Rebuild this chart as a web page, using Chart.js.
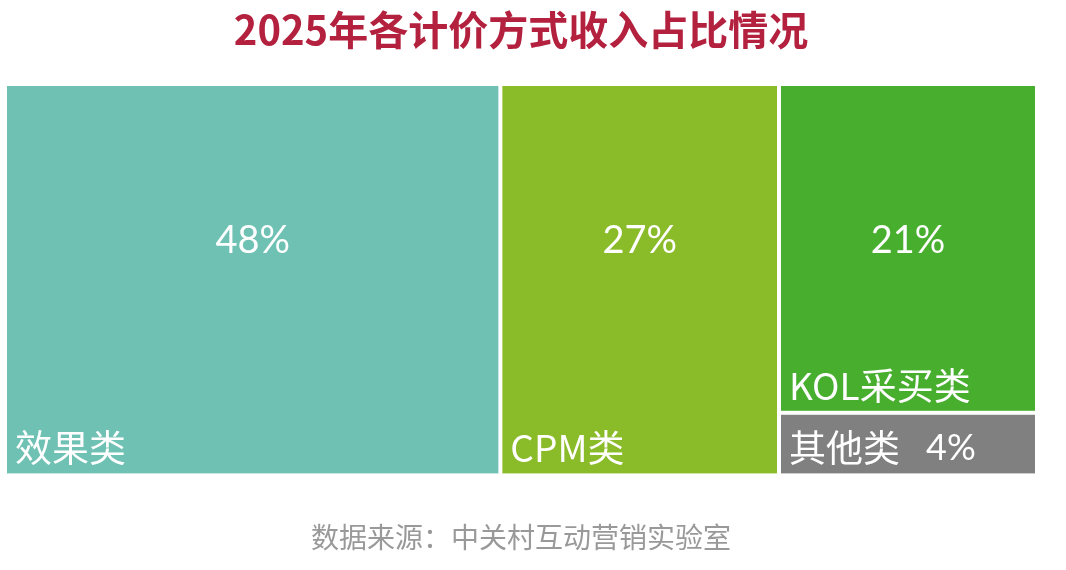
<!DOCTYPE html>
<html>
<head>
<meta charset="utf-8">
<script src="https://cdn.jsdelivr.net/npm/chart.js@4.4.1/dist/chart.umd.min.js"></script>
<style>
body { margin: 0; background: #fff; }
#wrap { width: 1066px; height: 570px; }
</style>
</head>
<body>
<div id="wrap"><canvas id="treemap"></canvas></div>
<script>
var categories = ['效果类', 'CPM类', 'KOL采买类', '其他类'];
var shares = [48, 27, 21, 4];
var colors = ['#6fc1b3', '#8abb28', '#47ae2e', '#808080'];
// which categories share a column of the treemap
var columns = [[0], [1], [2, 3]];

function layoutCells() {
    var total = shares.reduce(function (a, b) { return a + b; }, 0);
    var x = 0, cells = [];
    columns.forEach(function (col) {
        var colSum = col.reduce(function (s, i) { return s + shares[i]; }, 0);
        var w = colSum / total * 100, y = 0;
        col.forEach(function (i) {
            var h = shares[i] / colSum * 100;
            cells.push({ x: x + w / 2, y: y + h / 2, x0: x, x1: x + w, y0: y, y1: y + h, idx: i });
            y += h;
        });
        x += w;
    });
    return cells;
}

var cellPlugin = {
    id: 'cells',
    afterDatasetsDraw: function (chart) {
        var ctx = chart.ctx, xs = chart.scales.x, ys = chart.scales.y;
        ctx.save();
        chart.data.datasets[0].data.forEach(function (c) {
            var l = xs.getPixelForValue(c.x0) + 2, r = xs.getPixelForValue(c.x1) - 2;
            var t = ys.getPixelForValue(c.y0) + 2, b = ys.getPixelForValue(c.y1) - 2;
            ctx.fillStyle = colors[c.idx];
            ctx.fillRect(l, t, r - l, b - t);

            var name = categories[c.idx], pct = shares[c.idx] + '%';
            ctx.fillStyle = '#ffffff';
            ctx.textBaseline = 'middle';
            ctx.font = '37px "Noto Sans CJK SC"';
            ctx.textAlign = 'left';
            ctx.fillText(name, l + 8, b - 25);
            if (c.y1 - c.y0 < 25) {
                var nw = ctx.measureText(name).width;
                ctx.font = '36px Lato';
                ctx.fillText(pct, l + 8 + nw + 26, b - 25);
            } else {
                ctx.font = '38px Lato';
                ctx.textAlign = 'center';
                ctx.fillText(pct, (l + r) / 2, ys.getPixelForValue(Math.min(c.y, 40)));
            }
        });
        ctx.restore();
    }
};

new Chart(document.getElementById('treemap'), {
    type: 'scatter',
    data: {
        datasets: [{
            label: '收入占比',
            data: layoutCells(),
            pointRadius: 0,
            pointHoverRadius: 0
        }]
    },
    options: {
        responsive: true,
        maintainAspectRatio: false,
        animation: false,
        layout: { padding: { left: 5, right: 29, top: 0, bottom: 0 } },
        scales: {
            x: { type: 'linear', min: 0, max: 100, display: false },
            y: { type: 'linear', min: 0, max: 100, reverse: true, display: false }
        },
        plugins: {
            legend: { display: false },
            tooltip: { enabled: false },
            title: {
                display: true,
                text: '2025年各计价方式收入占比情况',
                color: '#b3213f',
                font: { family: '"Noto Sans CJK SC"', size: 40, weight: 'bold' },
                padding: { top: 6, bottom: 30 }
            },
            subtitle: {
                display: true,
                position: 'bottom',
                text: '数据来源：中关村互动营销实验室',
                color: '#999999',
                font: { family: '"Noto Sans CJK SC"', size: 28, weight: 'normal' },
                padding: { top: 45, bottom: 16 }
            }
        }
    },
    plugins: [cellPlugin]
});
</script>
</body>
</html>
